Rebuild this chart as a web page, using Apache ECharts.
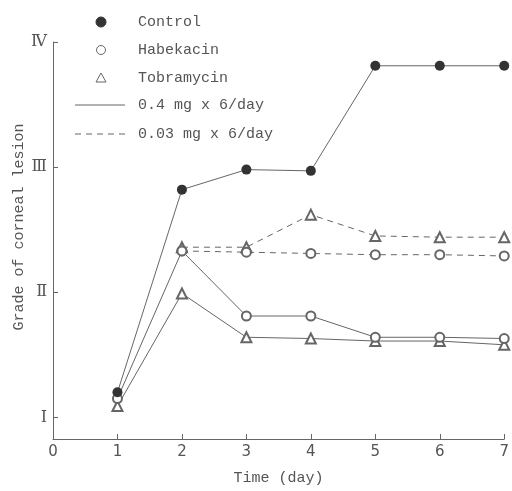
<!DOCTYPE html>
<html>
<head>
<meta charset="utf-8">
<script src="https://cdn.jsdelivr.net/npm/echarts@6/dist/echarts.min.js"></script>
<style>
html,body{margin:0;padding:0;background:#fff;}
#chart{width:512px;height:491px;}
</style>
</head>
<body>
<div id="chart"></div>
<script>
var days = [1, 2, 3, 4, 5, 6, 7];
var xTickLabels = ['0', '1', '2', '3', '4', '5', '6', '7'];
var yTickLabels = ['Ⅰ', 'Ⅱ', 'Ⅲ', 'Ⅳ'];
var controlValues = [1.20, 2.82, 2.98, 2.97, 3.81, 3.81, 3.81];
var habekacinHigh = [1.15, 2.33, 1.81, 1.81, 1.64, 1.64, 1.63];
var habekacinLow = [null, 2.33, 2.32, 2.31, 2.30, 2.30, 2.29];
var tobramycinHigh = [1.09, 1.99, 1.64, 1.63, 1.61, 1.61, 1.58];
var tobramycinLow = [null, 2.36, 2.36, 2.62, 2.45, 2.44, 2.44];
var legendNames = ['Control', 'Habekacin', 'Tobramycin', '0.4 mg x 6/day', '0.03 mg x 6/day'];

function pairs(vals) {
  return days.map(function (d, i) { return [d, vals[i]]; });
}

var ink = '#555';
var font = 'Liberation Mono';
var chart = echarts.init(document.getElementById('chart'));

function lineSeries(name, vals, symbol, dashed, size, filled) {
  return {
    name: name,
    type: 'line',
    data: pairs(vals),
    symbol: symbol,
    symbolSize: size,
    showAllSymbol: true,
    connectNulls: false,
    lineStyle: { color: '#666', width: 1, type: dashed ? [6, 5] : 'solid' },
    itemStyle: { color: filled ? '#333' : '#666', borderWidth: 1 },
    z: filled ? 5 : 3,
    animation: false
  };
}

var option = {
  animation: false,
  backgroundColor: '#fff',
  grid: { left: 53, right: 6, top: 42, bottom: 45 },
  xAxis: {
    type: 'value', min: 0, max: 7, interval: 1,
    name: 'Time (day)', nameLocation: 'middle', nameGap: 32,
    nameTextStyle: { fontFamily: font, fontSize: 15, color: ink },
    axisLine: { show: true, lineStyle: { color: '#666', width: 1 } },
    axisTick: { show: true, inside: true, length: 5, customValues: days, lineStyle: { color: '#666' } },
    axisLabel: { margin: 6, fontFamily: 'DejaVu Sans', fontSize: 15, color: ink,
      formatter: function (v) { return xTickLabels[Math.round(v)]; } },
    splitLine: { show: false }
  },
  yAxis: {
    type: 'value', min: 0.827, max: 4,
    axisLine: { show: true, lineStyle: { color: '#666', width: 1 } },
    axisTick: { show: true, inside: true, length: 5, customValues: [1, 2, 3, 4], lineStyle: { color: '#666' } },
    axisLabel: { customValues: [1, 2, 3, 4], margin: 6, fontFamily: 'DejaVu Serif', fontSize: 16, color: ink,
      formatter: function (v) { return yTickLabels[Math.round(v) - 1]; } },
    splitLine: { show: false }
  },
  graphic: [
    { type: 'text', x: 19, y: 227, rotation: Math.PI / 2,
      style: { text: 'Grade of corneal lesion', fontFamily: font, fontSize: 15, fill: ink, textAlign: 'center', textVerticalAlign: 'middle' } },
    { type: 'circle', shape: { cx: 101, cy: 22, r: 5 }, style: { fill: '#333', stroke: '#333' } },
    { type: 'circle', shape: { cx: 101, cy: 50, r: 4.5 }, style: { fill: '#fff', stroke: '#666', lineWidth: 1 } },
    { type: 'polygon', shape: { points: [[101, 73], [96, 82], [106, 82]] }, style: { fill: '#fff', stroke: '#666', lineWidth: 1 } },
    { type: 'line', shape: { x1: 75, y1: 105, x2: 125, y2: 105 }, style: { stroke: '#666', lineWidth: 1 } },
    { type: 'line', shape: { x1: 75, y1: 134, x2: 125, y2: 134 }, style: { stroke: '#666', lineWidth: 1, lineDash: [6, 5] } },
    { type: 'text', x: 138, y: 22, style: { text: legendNames[0], fontFamily: font, fontSize: 15, fill: ink, textVerticalAlign: 'middle' } },
    { type: 'text', x: 138, y: 50, style: { text: legendNames[1], fontFamily: font, fontSize: 15, fill: ink, textVerticalAlign: 'middle' } },
    { type: 'text', x: 138, y: 78, style: { text: legendNames[2], fontFamily: font, fontSize: 15, fill: ink, textVerticalAlign: 'middle' } },
    { type: 'text', x: 138, y: 105, style: { text: legendNames[3], fontFamily: font, fontSize: 15, fill: ink, textVerticalAlign: 'middle' } },
    { type: 'text', x: 138, y: 134, style: { text: legendNames[4], fontFamily: font, fontSize: 15, fill: ink, textVerticalAlign: 'middle' } }
  ],
  series: [
    lineSeries('Tobramycin 0.4', tobramycinHigh, 'emptyTriangle', false, 10, false),
    lineSeries('Tobramycin 0.03', tobramycinLow, 'emptyTriangle', true, 10, false),
    lineSeries('Habekacin 0.4', habekacinHigh, 'emptyCircle', false, 9, false),
    lineSeries('Habekacin 0.03', habekacinLow, 'emptyCircle', true, 9, false),
    lineSeries('Control', controlValues, 'circle', false, 10, true)
  ]
};
chart.setOption(option);
</script>
</body>
</html>
